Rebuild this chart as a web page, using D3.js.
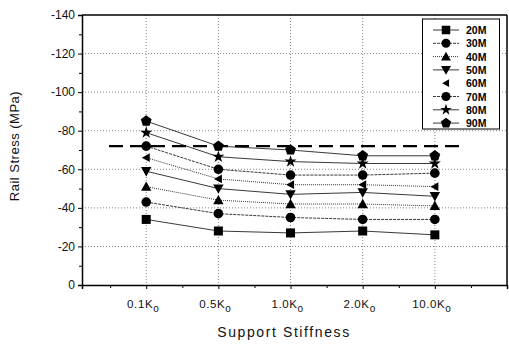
<!DOCTYPE html>
<html>
<head>
<meta charset="utf-8">
<script src="https://cdn.jsdelivr.net/npm/d3@7"></script>
<style>
  body { margin: 0; background: #fff; }
  svg { font-family: Arial, "Liberation Sans", sans-serif; }
</style>
</head>
<body>
<svg id="chart" width="509" height="344"></svg>
<script>
// stiffness categories (subscript "o" added when drawing)
let categories = ["0.1K", "0.5K", "1.0K", "2.0K", "10.0K"];
let seriesNames = ["20M", "30M", "40M", "50M", "60M", "70M", "80M", "90M"];

// rail stress values, MPa
let s20 = [-34, -28, -27, -28, -26];
let s30 = [-43, -37, -35, -34, -34];
let s40 = [-51, -44, -42, -42, -41];
let s50 = [-59, -50, -47, -48, -46];
let s60 = [-66, -55, -52, -52, -51];
let s70 = [-72, -60, -57, -57, -58];
let s80 = [-79, -66.5, -64, -63, -63];
let s90 = [-85, -72, -70, -67, -67];
let allowable = -72;

let yTicks = [0, -20, -40, -60, -80, -100, -120, -140];

let seriesValues = [s20, s30, s40, s50, s60, s70, s80, s90];
let symbols = ["square", "circle", "up", "down", "left", "circle", "star", "pentagon"];
let dashes = [null, "3,1", "1,1", null, "1,1", "3,1", null, null];

let svg = d3.select("#chart");
let plotLeft = 82, plotRight = 507, plotTop = 15, plotBottom = 285;

let x = d3.scaleLinear().domain([0.11, 6]).range([plotLeft, plotRight]);
let y = d3.scaleLinear().domain([0, -140]).range([plotBottom, plotTop]);

// grid
svg.append("g").selectAll("line")
    .data(yTicks.filter(d => d != 0 && d != -140))
    .enter().append("line")
        .attr("x1", plotLeft).attr("x2", plotRight)
        .attr("y1", d => y(d)).attr("y2", d => y(d))
        .attr("stroke", "#666").attr("stroke-width", 0.8)
        .attr("stroke-dasharray", "1,2");
svg.append("g").selectAll("line")
    .data(categories)
    .enter().append("line")
        .attr("x1", (d, i) => x(i + 1)).attr("x2", (d, i) => x(i + 1))
        .attr("y1", plotTop).attr("y2", plotBottom)
        .attr("stroke", "#666").attr("stroke-width", 0.8)
        .attr("stroke-dasharray", "1,2");

// axes
let yAxis = d3.axisLeft(y).tickValues(yTicks).tickSize(4).tickPadding(3).tickFormat(d => d);
let gy = svg.append("g").attr("transform", `translate(${plotLeft},0)`).call(yAxis);
gy.selectAll(".tick text").attr("font-size", 12).attr("font-family", "Arial, sans-serif").attr("fill", "#111");
gy.select(".domain").attr("stroke-width", 1.5);
let yMinor = d3.axisLeft(y).tickValues(d3.range(-10, -140, -20)).tickSize(3).tickFormat("");
svg.append("g").attr("transform", `translate(${plotLeft},0)`).call(yMinor).select(".domain").remove();

let xAxis = d3.axisBottom(x).tickValues([1, 2, 3, 4, 5]).tickSize(4).tickFormat("");
let gx = svg.append("g").attr("transform", `translate(0,${plotBottom})`).call(xAxis);
gx.select(".domain").attr("stroke-width", 1.5);
let xMinor = d3.axisBottom(x).tickValues([0.5, 1.5, 2.5, 3.5, 4.5, 5.5]).tickSize(3).tickFormat("");
svg.append("g").attr("transform", `translate(0,${plotBottom})`).call(xMinor).select(".domain").remove();

// frame top and right
svg.append("line").attr("x1", plotLeft).attr("x2", plotRight).attr("y1", plotTop).attr("y2", plotTop)
    .attr("stroke", "#000").attr("stroke-width", 1.5);
svg.append("line").attr("x1", plotRight).attr("x2", plotRight).attr("y1", plotTop).attr("y2", plotBottom)
    .attr("stroke", "#000").attr("stroke-width", 1.5);

// x tick labels with subscript o
categories.forEach((c, i) => {
    let t = svg.append("text")
        .attr("x", x(i + 1) - 3).attr("y", plotBottom + 23)
        .attr("text-anchor", "middle").attr("font-size", 11.5).attr("fill", "#111")
        .attr("letter-spacing", 0.6);
    t.append("tspan").text(c);
    t.append("tspan").attr("dy", 4).attr("font-size", 10).text("o");
});

// axis titles
svg.append("text")
    .attr("x", 284).attr("y", 337)
    .attr("text-anchor", "middle").attr("font-size", 14).attr("letter-spacing", 1.6)
    .attr("fill", "#111").text("Support  Stiffness");
svg.append("text")
    .attr("transform", "translate(19,146) rotate(-90)")
    .attr("text-anchor", "middle").attr("font-size", 13).attr("letter-spacing", 0.5)
    .attr("fill", "#111").text("Rail Stress (MPa)");

function symbolPath(type, size) {
    let s = size;
    if (type == "square") return d3.symbol(d3.symbolSquare, s * s * 0.9)();
    if (type == "circle") return d3.symbol(d3.symbolCircle, s * s * 0.8)();
    if (type == "star") return d3.symbol(d3.symbolStar, s * s * 0.5)();
    if (type == "pentagon") {
        let r = s * 0.6;
        let pts = d3.range(5).map(k => {
            let a = -Math.PI / 2 + k * 2 * Math.PI / 5;
            return [r * Math.cos(a), r * Math.sin(a)];
        });
        return "M" + pts.join("L") + "Z";
    }
    let h = s * 0.55;
    if (type == "up") return `M0,${-h}L${h},${h * 0.8}L${-h},${h * 0.8}Z`;
    if (type == "down") return `M0,${h}L${h},${-h * 0.8}L${-h},${-h * 0.8}Z`;
    if (type == "left") return `M${-h},0L${h * 0.8},${-h}L${h * 0.8},${h}Z`;
}

// series
let line = d3.line().x((d, i) => x(i + 1)).y(d => y(d));
seriesValues.forEach((vals, k) => {
    svg.append("path")
        .attr("d", line(vals))
        .attr("fill", "none").attr("stroke", "#222").attr("stroke-width", 0.9)
        .attr("stroke-dasharray", dashes[k]);
    svg.append("g").selectAll("path")
        .data(vals)
        .enter().append("path")
            .attr("transform", (d, i) => `translate(${x(i + 1)},${y(d)})`)
            .attr("d", symbolPath(symbols[k], symbols[k] == "left" ? 8 : 9.5))
            .attr("fill", "#000");
});

// allowable stress line
svg.append("line")
    .attr("x1", 109).attr("x2", 462)
    .attr("y1", y(allowable)).attr("y2", y(allowable))
    .attr("stroke", "#000").attr("stroke-width", 2.2)
    .attr("stroke-dasharray", "14,7");

// legend
let lg = svg.append("g");
lg.append("rect")
    .attr("x", 422.5).attr("y", 19).attr("width", 77).attr("height", 110)
    .attr("fill", "#fff").attr("stroke", "#000").attr("stroke-width", 1);
seriesNames.forEach((name, k) => {
    let ly = 30 + k * 13.3;
    if (symbols[k] != "left") {
        lg.append("line").attr("x1", 433).attr("x2", 459).attr("y1", ly).attr("y2", ly)
            .attr("stroke", "#222").attr("stroke-width", 0.9).attr("stroke-dasharray", dashes[k]);
    }
    lg.append("path").attr("transform", `translate(446,${ly})`)
        .attr("d", symbolPath(symbols[k], symbols[k] == "left" ? 7 : 9)).attr("fill", "#000");
    lg.append("text").attr("x", 466).attr("y", ly + 4)
        .attr("font-size", 10.5).attr("font-weight", "bold").attr("fill", "#000")
        .text(name);
});
</script>
</body>
</html>
